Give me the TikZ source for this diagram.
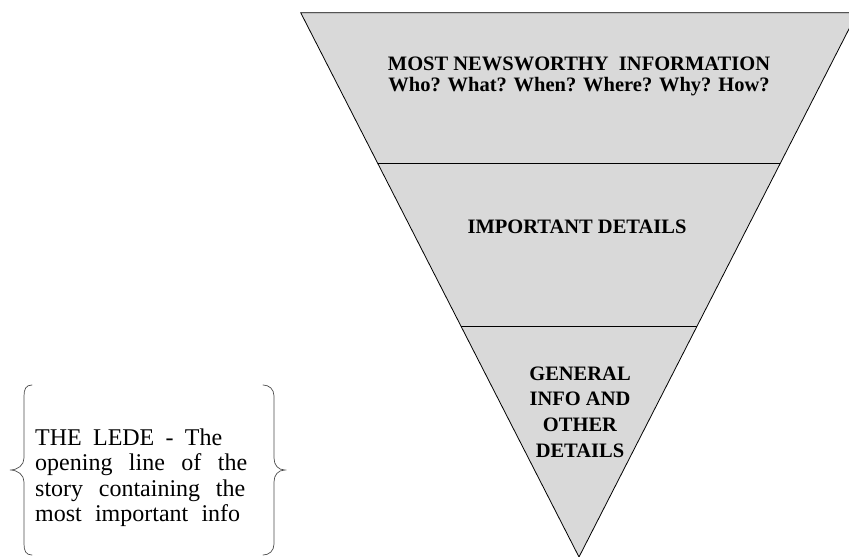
\documentclass[tikz,border=0pt]{standalone}
\usepackage{fontspec}
\setmainfont{Liberation Serif}[BoldFont={Liberation Serif Bold}]
\usetikzlibrary{calc}
\definecolor{fillgray}{RGB}{217,217,217}
\begin{document}
\begin{tikzpicture}[x=1pt,y=-1pt,
  lbl/.style={font=\bfseries\fontsize{20.5}{20.5}\selectfont, inner sep=0pt, anchor=base},
  lede/.style={font=\fontsize{24}{24}\selectfont, inner sep=0pt, anchor=base west},
  edge/.style={draw=black, line width=0.8pt},
  bracepath/.style={draw=black!70, line width=0.7pt, line cap=round}]
\useasboundingbox (0,0) rectangle (849,557);
\clip (0,0) rectangle (849,557);
% inverted pyramid
\coordinate (tl) at (300.7,12.7);
\coordinate (tr) at (857.3,12.7);
\coordinate (ap) at (579,557);
\fill[fillgray] (tl) -- (tr) -- (ap) -- cycle;
\draw[edge, line join=miter] (tl) -- (tr) -- (ap) -- cycle;
\coordinate (l1) at ($(tl)!0.2771!(ap)$);
\coordinate (r1) at ($(tr)!0.2771!(ap)$);
\coordinate (l2) at ($(tl)!0.5756!(ap)$);
\coordinate (r2) at ($(tr)!0.5756!(ap)$);
\draw[edge] (l1) -- (r1);
\draw[edge] (l2) -- (r2);
% labels
\node[lbl] (t1) at (579,70) {MOST NEWSWORTHY\ \ INFORMATION};
\node[lbl] (t2) at (579,91) {Who? What? When? Where? Why? How?};
\node[lbl] (imp) at (577,233) {IMPORTANT DETAILS};
\node[lbl] (g1) at (580,380) {GENERAL};
\node[lbl] (g2) at (580,405.7) {INFO AND};
\node[lbl] (g3) at (580,431.3) {OTHER};
\node[lbl] (g4) at (580,457) {DETAILS};
% the lede
\node[lede] (d1) at (35,445) {\makebox[187pt][s]{THE LEDE - The}};
\node[lede] (d2) at (35,470.5) {\makebox[212pt][s]{opening line of the}};
\node[lede] (d3) at (35,496) {\makebox[210pt][s]{story containing the}};
\node[lede] (d4) at (35,521.5) {\makebox[205pt][s]{most important info}};
% braces
\draw[bracepath] (32,385) .. controls (26,385) and (24,389) .. (24,396) -- (24,458)
  .. controls (24,465) and (18,470) .. (10,470)
  .. controls (18,470) and (24,475) .. (24,482) -- (24,544)
  .. controls (24,551) and (26,555) .. (32,555);
\draw[bracepath] (263,385) .. controls (269,385) and (274,389) .. (274,396) -- (274,458)
  .. controls (274,465) and (278,470) .. (285,470)
  .. controls (278,470) and (274,475) .. (274,482) -- (274,544)
  .. controls (274,551) and (269,555) .. (263,555);
\end{tikzpicture}
\end{document}
